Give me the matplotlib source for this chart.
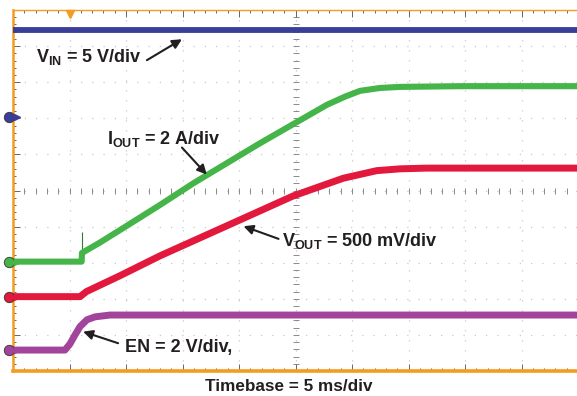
#!/usr/bin/env python3
"""Soft-start scope capture: VIN, IOUT, VOUT and EN traces."""

import matplotlib
matplotlib.use("Agg")
import matplotlib.pyplot as plt
import numpy as np

plt.rcParams["font.family"] = "Liberation Sans"
plt.rcParams["mathtext.fontset"] = "custom"
plt.rcParams["mathtext.rm"] = "Liberation Sans:bold"
plt.rcParams["mathtext.it"] = "Liberation Sans:bold"
plt.rcParams["mathtext.bf"] = "Liberation Sans:bold"

# time in ms (5 ms/div), levels in screen divisions from the bottom
VIN_T = [0, 50]
VIN_Y = [9.45, 9.45]

IOUT_T = [0, 6.08, 6.10, 7.70, 10.06, 13.01, 15.96, 21.86, 27.76, 29.38,
          30.71, 32.48, 34.25, 39.56, 50]
IOUT_Y = [3.03, 3.03, 3.27, 3.56, 4.02, 4.60, 5.20, 6.31, 7.37, 7.60,
          7.76, 7.84, 7.87, 7.89, 7.89]
IOUT_SPIKE = (6.08, 3.03, 3.85)

VOUT_T = [0, 5.93, 6.5, 9.47, 13.01, 18.91, 24.80, 29.23, 32.19,
          34.25, 36.61, 50]
VOUT_Y = [2.06, 2.06, 2.2, 2.64, 3.19, 4.02, 4.85, 5.34, 5.55,
          5.60, 5.62, 5.62]

EN_T = [0, 4.6, 5.04, 5.49, 5.93, 6.55, 7.26, 8.58, 50]
EN_Y = [0.58, 0.58, 0.75, 1.0, 1.23, 1.42, 1.5, 1.55, 1.55]

# channel ground markers on the left edge
MARKER_Y = {"vin": 7.03, "iout": 3.03, "vout": 2.06, "en": 0.58}

COLORS = {
    "vin": "#3B3E98",
    "iout": "#45B549",
    "vout": "#E2183D",
    "en": "#A3449C",
    "frame": "#F39C1F",
    "grid": "#C8C8C8",
}

fig = plt.figure(figsize=(5.77, 3.96), dpi=100)
ax = fig.add_axes([13 / 577, 25 / 396, 565 / 577, 361 / 396])
ax.set_xlim(0, 50)
ax.set_ylim(0, 10)

# dotted graticule
for v in np.arange(5, 50, 5):
    ax.axvline(v, color=COLORS["grid"], lw=0.9, ls=(0, (1, 7)), zorder=0)
for v in np.arange(1, 10, 1):
    ax.axhline(v, color=COLORS["grid"], lw=0.9, ls=(0, (1, 8)), zorder=0)
sub_x = np.arange(0, 50.01, 1)
sub_y = np.arange(0, 10.01, 0.2)
ax.plot(sub_x, np.full_like(sub_x, 5), ls="none", marker="|", ms=5, mew=0.7,
        color="#8A8A8A", zorder=1)
ax.plot(np.full_like(sub_y, 25), sub_y, ls="none", marker="_", ms=5, mew=0.7,
        color="#8A8A8A", zorder=1)

# frame
for side in ("top", "left", "bottom"):
    ax.spines[side].set_color(COLORS["frame"])
ax.spines["top"].set_linewidth(1.0)
ax.spines["left"].set_linewidth(1.8)
ax.spines["bottom"].set_linewidth(2.6)
ax.spines["right"].set_visible(False)
ax.set_xticks(np.arange(0, 51, 5))
ax.set_xticks(np.arange(0, 51, 1), minor=True)
ax.set_yticks(np.arange(0, 11, 1))
ax.set_yticks(np.arange(0, 10.01, 0.2), minor=True)
ax.tick_params(which="both", direction="in", top=True, bottom=True, left=True,
               right=False, labelbottom=False, labelleft=False,
               color="#666666", width=0.7)
ax.tick_params(which="major", length=5)
ax.tick_params(which="minor", length=2.5)

# traces
ax.plot(EN_T, EN_Y, color=COLORS["en"], lw=5, solid_capstyle="butt",
        solid_joinstyle="round", zorder=3)
ax.plot(VOUT_T, VOUT_Y, color=COLORS["vout"], lw=5, solid_capstyle="butt",
        solid_joinstyle="round", zorder=3)
ax.vlines(IOUT_SPIKE[0], IOUT_SPIKE[1], IOUT_SPIKE[2], color="#2E7D32", lw=0.8, zorder=3)
ax.plot(IOUT_T, IOUT_Y, color=COLORS["iout"], lw=4.4, solid_capstyle="butt",
        solid_joinstyle="round", zorder=3)
ax.plot(VIN_T, VIN_Y, color=COLORS["vin"], lw=4.2, solid_capstyle="butt", zorder=3)

# ground markers and trigger marker
for key, y in MARKER_Y.items():
    ax.plot(-0.35, y, marker="o", ms=7.5, color=COLORS[key], mec="#333333",
            mew=0.6, clip_on=False, zorder=5)
    ax.plot(0.35, y, marker=">", ms=4, color=COLORS[key], clip_on=False, zorder=5)
ax.plot(5.0, 9.9, marker="v", ms=6, color=COLORS["frame"], clip_on=False, zorder=5)

# labels and arrows
txt = dict(fontsize=13, fontweight="bold", color="#231F20", va="baseline", ha="left")
ax.text(2.04, 8.56, r"V$_{\mathrm{IN}}$ = 5 V/div", **txt)
ax.text(8.3, 6.28, r"I$_{\mathrm{OUT}}$ = 2 A/div", **txt)
ax.text(23.8, 3.45, r"V$_{\mathrm{OUT}}$ = 500 mV/div", **txt)
ax.text(9.9, 0.54, "EN = 2 V/div,", **txt)

arrow = dict(arrowstyle="-|>", color="#231F20", lw=1.5, mutation_scale=14,
             shrinkA=0, shrinkB=0)
ax.annotate("", xy=(14.95, 9.19), xytext=(11.85, 8.61), arrowprops=arrow)
ax.annotate("", xy=(17.15, 5.44), xytext=(14.95, 6.19), arrowprops=arrow)
ax.annotate("", xy=(20.4, 4.01), xytext=(23.5, 3.66), arrowprops=arrow)
ax.annotate("", xy=(6.2, 1.09), xytext=(9.3, 0.77), arrowprops=arrow)

fig.text(289 / 577, 5.3 / 396, "Timebase = 5 ms/div", fontsize=12.3,
         fontweight="bold", color="#231F20", ha="center", va="baseline")

fig.savefig("out.png", dpi=100)
